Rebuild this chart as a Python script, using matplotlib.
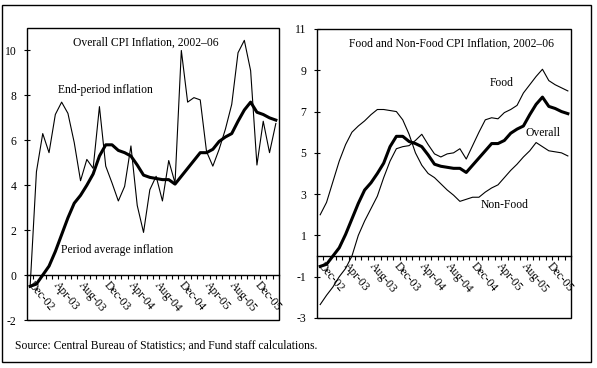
# CPI inflation 2002-06: overall (end-period vs period average) and food / non-food
import matplotlib
matplotlib.use('Agg')
import matplotlib.pyplot as plt
from matplotlib.patches import Rectangle

plt.rcParams['font.family'] = 'Liberation Serif'
plt.rcParams['font.size'] = 8.4

# months Dec-02 .. Mar-06
months = ['Dec-02', 'Jan-03', 'Feb-03', 'Mar-03', 'Apr-03', 'May-03', 'Jun-03', 'Jul-03',
          'Aug-03', 'Sep-03', 'Oct-03', 'Nov-03', 'Dec-03', 'Jan-04', 'Feb-04', 'Mar-04',
          'Apr-04', 'May-04', 'Jun-04', 'Jul-04', 'Aug-04', 'Sep-04', 'Oct-04', 'Nov-04',
          'Dec-04', 'Jan-05', 'Feb-05', 'Mar-05', 'Apr-05', 'May-05', 'Jun-05', 'Jul-05',
          'Aug-05', 'Sep-05', 'Oct-05', 'Nov-05', 'Dec-05', 'Jan-06', 'Feb-06', 'Mar-06']

end_period = [-0.5, 4.6, 6.3, 5.45, 7.15, 7.7, 7.2, 5.9, 4.2, 5.15,
              4.75, 7.5, 4.85, 4.1, 3.3, 3.95, 5.75, 3.1, 1.9, 3.8,
              4.4, 3.3, 5.1, 4.1, 10.0, 7.7, 7.9, 7.8, 5.5, 4.85,
              5.6, 6.5, 7.6, 9.9, 10.45, 9.1, 4.9, 6.85, 5.45, 6.75]

overall = [-0.5, -0.4, 0.0, 0.4, 1.05, 1.8, 2.55, 3.2, 3.55, 4.0,
           4.5, 5.3, 5.8, 5.8, 5.55, 5.45, 5.3, 4.9, 4.45, 4.35,
           4.3, 4.25, 4.25, 4.05, 4.4, 4.75, 5.1, 5.45, 5.45, 5.6,
           5.95, 6.15, 6.3, 6.85, 7.35, 7.7, 7.25, 7.15, 7.0, 6.9]

food = [-2.35, -1.9, -1.5, -1.0, -0.6, 0.0, 1.0, 1.7, 2.3, 2.9,
        3.8, 4.6, 5.2, 5.3, 5.35, 5.6, 5.9, 5.4, 4.95, 4.8,
        4.95, 5.0, 5.2, 4.7, 5.35, 6.0, 6.6, 6.7, 6.65, 6.95,
        7.1, 7.3, 7.9, 8.3, 8.7, 9.05, 8.5, 8.3, 8.15, 8.0]

non_food = [2.0, 2.6, 3.6, 4.6, 5.4, 6.0, 6.3, 6.55, 6.85, 7.1,
            7.1, 7.05, 7.0, 6.6, 5.9, 5.0, 4.4, 4.0, 3.8, 3.5,
            3.2, 2.95, 2.65, 2.75, 2.85, 2.85, 3.1, 3.3, 3.45, 3.8,
            4.15, 4.45, 4.8, 5.1, 5.5, 5.3, 5.1, 5.05, 5.0, 4.85]

left_yticks = [-2, 0, 2, 4, 6, 8, 10]
right_yticks = [-3, -1, 1, 3, 5, 7, 9, 11]

x = list(range(len(months)))

fig = plt.figure(figsize=(5.97, 3.68), dpi=100)
fig.patches.append(Rectangle((0.004, 0.016), 0.986, 0.97, transform=fig.transFigure,
                             fill=False, edgecolor='black', linewidth=1.0))

ax1 = fig.add_axes([0.0452, 0.1304, 0.4221, 0.7935])
ax2 = fig.add_axes([0.531, 0.1359, 0.4255, 0.7853])


def style_axis(ax, ylim, yticks):
    ax.set_xlim(-0.5, len(months) - 0.5)
    ax.set_ylim(*ylim)
    ax.set_yticks(yticks)
    ax.set_yticklabels([str(t) for t in yticks])
    for s in ['top', 'right', 'left']:
        ax.spines[s].set_visible(False)
    ax.spines['bottom'].set_position(('data', 0))
    ax.spines['bottom'].set_linewidth(1.0)
    ax.add_patch(Rectangle((0, 0), 1, 1, transform=ax.transAxes, fill=False,
                           edgecolor='black', linewidth=1.0, clip_on=False))
    ax.tick_params(axis='y', direction='inout', length=4, width=0.8, pad=5.5)
    ax.set_xticks(x[::4])
    ax.set_xticklabels(months[::4], rotation=-50, ha='left', va='center',
                       rotation_mode='anchor')
    ax.set_xticks([i - 0.5 for i in range(len(months) + 1)], minor=True)
    ax.tick_params(axis='x', which='major', length=0, pad=6)
    ax.tick_params(axis='x', which='minor', direction='out', length=3, width=0.8)


# left panel
ax1.plot(x, end_period, color='black', linewidth=0.8)
ax1.plot(x, overall, color='black', linewidth=2.2)
style_axis(ax1, (-2, 11), left_yticks)
ax1.text(0.47, 0.95, 'Overall CPI Inflation, 2002\u201306', transform=ax1.transAxes,
         ha='center', va='center')
ax1.text(0.313, 0.788, 'End-period inflation', transform=ax1.transAxes,
         ha='center', va='center')
ax1.text(0.359, 0.24, 'Period average inflation', transform=ax1.transAxes,
         ha='center', va='center')

# right panel
ax2.plot(x, food, color='black', linewidth=0.8)
ax2.plot(x, non_food, color='black', linewidth=0.8)
ax2.plot(x, overall, color='black', linewidth=2.2)
style_axis(ax2, (-3, 11), right_yticks)
ax2.text(0.529, 0.948, 'Food and Non-Food CPI Inflation, 2002\u201306', transform=ax2.transAxes,
         ha='center', va='center')
ax2.text(0.727, 0.814, 'Food', transform=ax2.transAxes, ha='center', va='center')
ax2.text(0.889, 0.639, 'Overall', transform=ax2.transAxes, ha='center', va='center')
ax2.text(0.74, 0.391, 'Non-Food', transform=ax2.transAxes, ha='center', va='center')

fig.text(0.025, 0.0625, 'Source: Central Bureau of Statistics; and Fund staff calculations.',
         ha='left', va='center')

plt.savefig('out.png', dpi=100)
